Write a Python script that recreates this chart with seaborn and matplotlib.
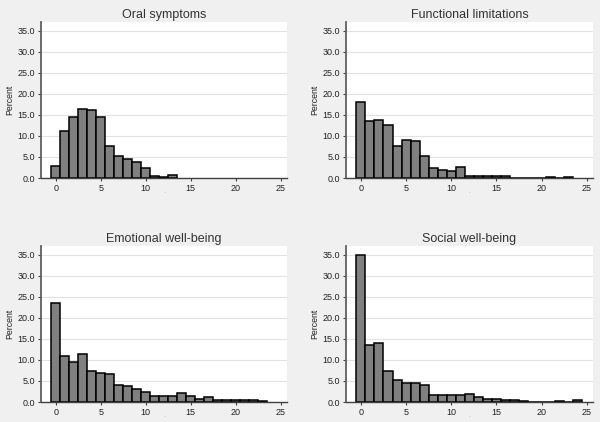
import numpy as np
import pandas as pd
import matplotlib
matplotlib.use("Agg")
import matplotlib.pyplot as plt
import seaborn as sns
from matplotlib.ticker import FormatStrFormatter

scores = list(range(25))

oral_symptoms = [2.8, 11.1, 14.6, 16.4, 16.1, 14.6, 7.6, 5.3, 4.5, 3.7, 2.3, 0.55, 0.3, 0.7,
                 0, 0, 0, 0, 0, 0, 0, 0, 0, 0, 0]
functional_limitations = [18.1, 13.6, 13.8, 12.7, 7.6, 9.0, 8.75, 5.3, 2.3, 2.0, 1.75, 2.5,
                          0.5, 0.5, 0.5, 0.5, 0.5, 0, 0, 0, 0, 0.3, 0, 0.3, 0]
emotional_wellbeing = [23.5, 10.9, 9.6, 11.5, 7.3, 6.9, 6.7, 4.0, 3.7, 3.0, 2.3, 1.35, 1.35,
                       1.35, 2.1, 1.35, 0.65, 1.1, 0.4, 0.4, 0.4, 0.4, 0.4, 0.25, 0]
social_wellbeing = [35.0, 13.5, 14.0, 7.3, 5.25, 4.6, 4.6, 4.0, 1.6, 1.6, 1.6, 1.6, 1.8, 1.1,
                    0.7, 0.7, 0.45, 0.45, 0.25, 0, 0, 0, 0.25, 0, 0.5]

titles = ["Oral symptoms", "Functional limitations", "Emotional well-being", "Social well-being"]
series = [oral_symptoms, functional_limitations, emotional_wellbeing, social_wellbeing]
y_ticks = [0, 5, 10, 15, 20, 25, 30, 35]
x_ticks = [0, 5, 10, 15, 20, 25]

sns.set_theme(style="white")
plt.rcParams['font.family'] = ['Liberation Sans', 'DejaVu Sans']

fig = plt.figure(figsize=(6.0, 4.22), dpi=100, facecolor="#f0f0f0")
W, H = 600.0, 422.0
# (left, right, top, bottom) in pixels
boxes = [(41, 287, 22, 178), (346, 593, 22, 178), (41, 287, 246, 402), (346, 593, 246, 402)]

for (l, r, t, b), title, vals in zip(boxes, titles, series):
    ax = fig.add_axes([l / W, 1 - b / H, (r - l) / W, (b - t) / H])
    ax.set_facecolor("white")
    df = pd.DataFrame({"score": scores, "pct": vals})
    df = df[df["pct"] > 0]
    sns.histplot(data=df, x="score", weights="pct", discrete=True, ax=ax,
                 color="#808080", edgecolor="black", linewidth=1.1, alpha=1.0)
    ax.set_xlim(-1.65, 25.7)
    ax.set_ylim(0, 37.1)
    ax.set_yticks(y_ticks)
    ax.set_xticks(x_ticks)
    ax.yaxis.set_major_formatter(FormatStrFormatter("%.1f"))
    ax.yaxis.grid(True, color="#e2e2e2", linewidth=0.8)
    ax.set_axisbelow(True)
    for s in ["top", "right"]:
        ax.spines[s].set_visible(False)
    ax.spines["left"].set_color("#606060")
    ax.spines["left"].set_linewidth(1.3)
    ax.spines["bottom"].set_color("#404040")
    ax.spines["bottom"].set_linewidth(1.0)
    ax.tick_params(axis="both", which="major", direction="out", length=2.5, width=0.8,
                   color="#404040", labelsize=6.5, labelcolor="#222222", pad=2,
                   bottom=True, left=True)
    ax.set_ylabel("Percent", fontsize=6.3, color="#222222", labelpad=2)
    ax.set_xlabel(".", fontsize=5, color="#aaaaaa", labelpad=-4)
    ax.set_title(title, fontsize=9, color="#333333", pad=3)

fig.savefig("out.png", dpi=100, facecolor=fig.get_facecolor())
